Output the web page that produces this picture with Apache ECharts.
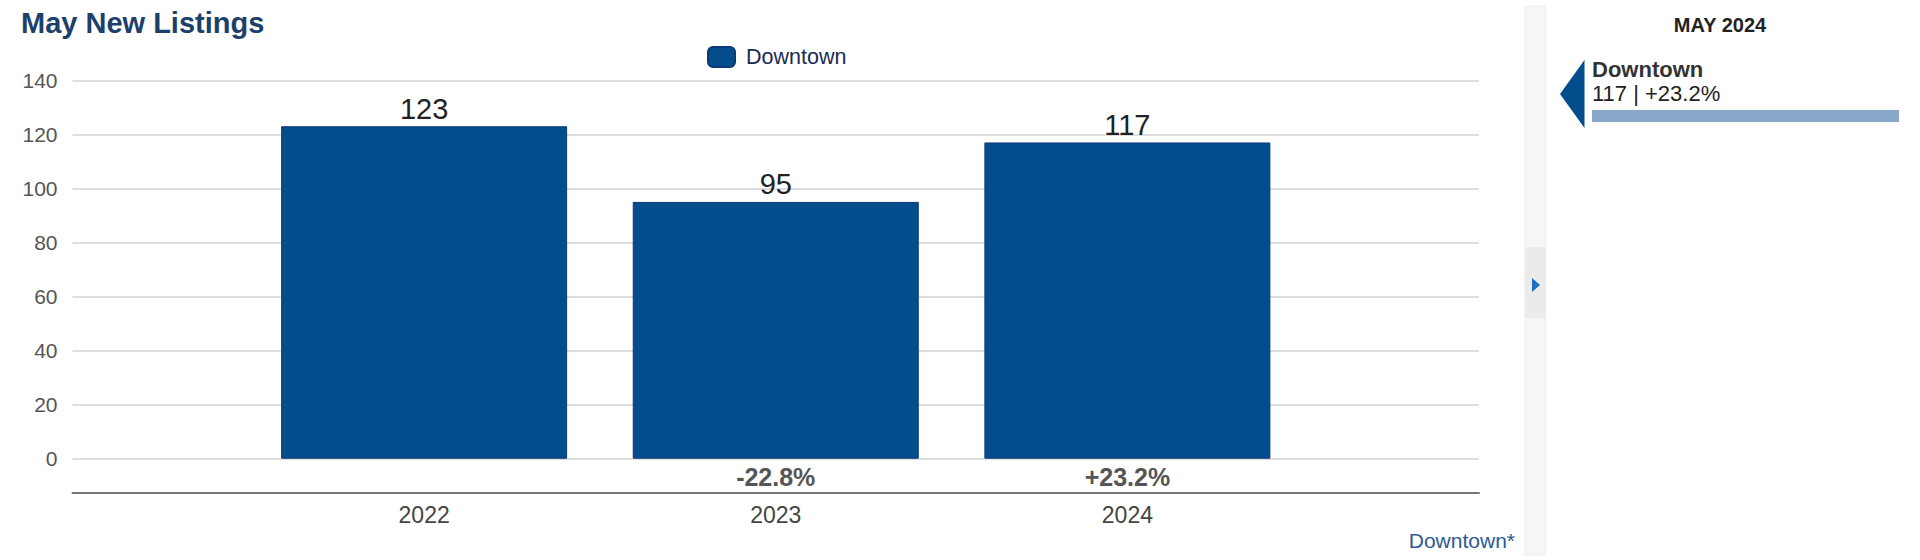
<!DOCTYPE html>
<html>
<head>
<meta charset="utf-8">
<script src="https://cdn.jsdelivr.net/npm/echarts@6/dist/echarts.min.js"></script>
<style>
html,body{margin:0;padding:0;background:#fff;}
#c{width:1920px;height:560px;}
</style>
</head>
<body>
<div id="c"></div>
<script>
const years = [2022, 2023, 2024];
const values = [123, 95, 117];
const seriesName = 'Downtown';
const yTicks = { min: 0, max: 140, interval: 20 };
const xRange = { min: 2021, max: 2025 };

const pctLabels = values.map((v, i) => {
  if (i === 0) return '';
  const p = (v - values[i - 1]) / values[i - 1] * 100;
  return (p >= 0 ? '+' : '') + p.toFixed(1) + '%';
});

const FONT = '"Liberation Sans", Arial, Helvetica, sans-serif';
const lastIdx = values.length - 1;

const chart = echarts.init(document.getElementById('c'), null, { renderer: 'svg' });
chart.setOption({
  animation: false,
  textStyle: { fontFamily: FONT },
  title: {
    text: 'May New Listings',
    left: 16, top: 3,
    textStyle: { fontFamily: FONT, fontSize: 29, fontWeight: 'bold', color: '#1c3f6b' }
  },
  legend: {
    data: [seriesName],
    left: 702, top: 41,
    icon: 'roundRect',
    itemWidth: 27, itemHeight: 20, itemGap: 10,
    textStyle: { fontFamily: FONT, fontSize: 21.5, color: '#1a2b55', padding: [0, 0, 0, 6] }
  },
  grid: { left: 72.5, right: 441, top: 80.3, bottom: 101.3, containLabel: false },
  xAxis: {
    type: 'value',
    min: xRange.min, max: xRange.max, interval: 1,
    offset: 34,
    axisLine: { show: true, onZero: false, lineStyle: { color: '#777', width: 2 } },
    axisTick: { show: false },
    splitLine: { show: false },
    axisLabel: {
      margin: 11,
      fontFamily: FONT, fontSize: 23, color: '#444',
      formatter: v => years.indexOf(v) >= 0 ? String(v) : ''
    }
  },
  yAxis: {
    type: 'value',
    min: yTicks.min, max: yTicks.max, interval: yTicks.interval,
    axisLine: { show: false },
    axisTick: { show: false },
    splitLine: { show: true, lineStyle: { color: '#dedede', width: 2 } },
    axisLabel: { margin: 15, fontFamily: FONT, fontSize: 21, color: '#555', padding: [7, 0, 0, 0] }
  },
  series: [
    {
      name: seriesName,
      type: 'bar',
      data: years.map((y, i) => [y, values[i]]),
      barWidth: 286,
      itemStyle: { color: '#034d8c', borderColor: '#0b3a78', borderWidth: 1 },
      label: { show: true, position: 'top', distance: 3, fontFamily: FONT, fontSize: 29, color: '#222' }
    },
    {
      name: 'change',
      type: 'custom',
      silent: true,
      clip: false,
      data: years.map((y, i) => [y, 0]),
      encode: { x: 0, y: 1 },
      renderItem: function (params, api) {
        const label = pctLabels[params.dataIndex];
        if (!label) return null;
        const p = api.coord([api.value(0), 0]);
        return {
          type: 'text',
          style: {
            text: label, x: p[0], y: p[1] + 18,
            align: 'center', verticalAlign: 'middle',
            font: 'bold 25px ' + FONT, fill: '#555'
          }
        };
      }
    }
  ],
  graphic: [
    { type: 'text', right: 405, top: 530,
      style: { text: seriesName + '*', font: '21px ' + FONT, fill: '#2c5a94' } },
    // sidebar
    { type: 'rect', shape: { x: 1525, y: 6, width: 20.5, height: 549 },
      style: { fill: '#f6f6f6', stroke: '#ececec', lineWidth: 1 } },
    { type: 'rect', shape: { x: 1525, y: 247, width: 20.5, height: 71 },
      style: { fill: '#ebebeb' } },
    { type: 'polygon', shape: { points: [[1532, 278], [1540, 285], [1532, 292]] },
      style: { fill: '#1a6ec4' } },
    // right panel
    { type: 'text', x: 1720, y: 25,
      style: { text: 'MAY ' + years[lastIdx], font: 'bold 20px ' + FONT, fill: '#222', align: 'center', verticalAlign: 'middle' } },
    { type: 'polygon', shape: { points: [[1560, 94], [1584.5, 60], [1584.5, 128]] },
      style: { fill: '#034d8c' } },
    { type: 'text', x: 1592, y: 69,
      style: { text: seriesName, font: 'bold 22px ' + FONT, fill: '#333', verticalAlign: 'middle' } },
    { type: 'text', x: 1592, y: 93,
      style: { text: values[lastIdx] + ' | ' + pctLabels[lastIdx], font: '22px ' + FONT, fill: '#222', verticalAlign: 'middle' } },
    { type: 'rect', shape: { x: 1592, y: 110, width: 307, height: 12 },
      style: { fill: '#87a6c8' } }
  ]
});
</script>
</body>
</html>
